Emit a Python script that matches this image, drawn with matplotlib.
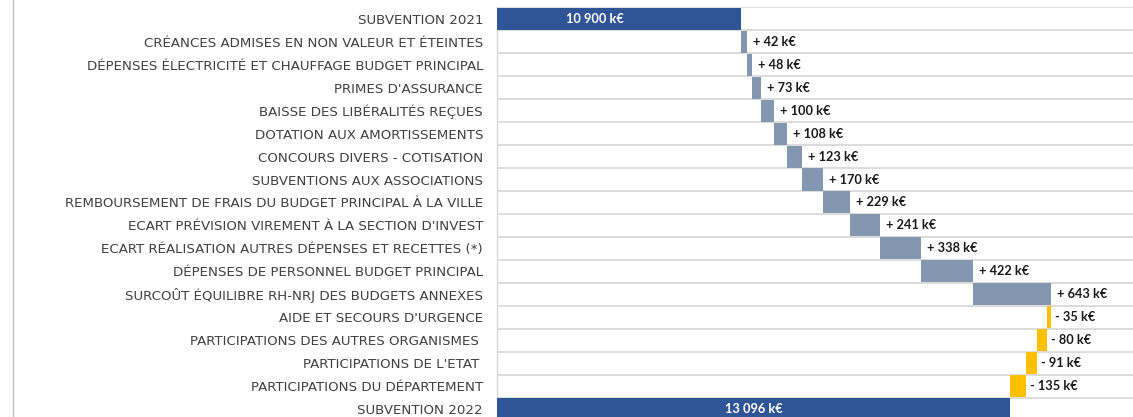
import matplotlib
matplotlib.use("Agg")
import matplotlib.pyplot as plt
import numpy as np
from matplotlib.lines import Line2D
from matplotlib.transforms import offset_copy

categories = [
    "SUBVENTION 2021",
    "CRÉANCES ADMISES EN NON VALEUR ET ÉTEINTES",
    "DÉPENSES ÉLECTRICITÉ ET CHAUFFAGE BUDGET PRINCIPAL",
    "PRIMES D'ASSURANCE",
    "BAISSE DES LIBÉRALITÉS REÇUES",
    "DOTATION AUX AMORTISSEMENTS",
    "CONCOURS DIVERS - COTISATION",
    "SUBVENTIONS AUX ASSOCIATIONS",
    "REMBOURSEMENT DE FRAIS DU BUDGET PRINCIPAL À LA VILLE",
    "ECART PRÉVISION VIREMENT À LA SECTION D'INVEST",
    "ECART RÉALISATION AUTRES DÉPENSES ET RECETTES (*)",
    "DÉPENSES DE PERSONNEL BUDGET PRINCIPAL",
    "SURCOÛT ÉQUILIBRE RH-NRJ DES BUDGETS ANNEXES",
    "AIDE ET SECOURS D'URGENCE",
    "PARTICIPATIONS DES AUTRES ORGANISMES ",
    "PARTICIPATIONS DE L'ETAT ",
    "PARTICIPATIONS DU DÉPARTEMENT",
    "SUBVENTION 2022",
]
start_total = 10900
deltas = [42, 48, 73, 100, 108, 123, 170, 229, 241, 338, 422, 643,
          -35, -80, -91, -135]
end_total = 13096

C_TOTAL = "#2F5597"
C_UP = "#8497B0"
C_DOWN = "#FFC000"
XMIN, XMAX = 8900, 14105

fig = plt.figure(figsize=(11.33, 4.17), dpi=100)
W, H = 1133, 417
row_h = 22.96
top_px = 7.3
n = len(categories)
ax_h = row_h * n
ax = fig.add_axes([497 / W, (H - top_px - ax_h) / H, (W - 497) / W, ax_h / H])

y = np.arange(n)
lefts, widths, colors = [], [], []
lefts.append(XMIN); widths.append(start_total - XMIN); colors.append(C_TOTAL)
cum = start_total
for d in deltas:
    if d >= 0:
        lefts.append(cum); widths.append(d); colors.append(C_UP)
    else:
        lefts.append(cum + d); widths.append(-d); colors.append(C_DOWN)
    cum += d
lefts.append(XMIN); widths.append(end_total - XMIN); colors.append(C_TOTAL)

ax.barh(y, widths, left=lefts, height=0.96, color=colors, zorder=3)

ax.set_xlim(XMIN, XMAX)
ax.set_ylim(n - 0.5, -0.5)
ax.set_yticks(y)
ax.set_yticklabels(categories, fontsize=9.6, color="#404040", family="DejaVu Sans")
ax.tick_params(axis="y", length=0, pad=10)
ax.set_xticks([])
ax.set_yticks(np.arange(n + 1) - 0.5, minor=True)
ax.tick_params(axis="y", which="minor", length=0)
ax.grid(axis="y", which="minor", color="#D9D9D9", linewidth=1.3, zorder=0)
for s in ["top", "right", "bottom"]:
    ax.spines[s].set_visible(False)
ax.spines["left"].set_color("#D9D9D9")
ax.spines["left"].set_linewidth(1.0)

lab_font = dict(family="Lato", fontweight="bold", fontsize=9.2)
# totals
ax.text(XMIN + (start_total - XMIN) * 0.4, 0, "10 900 k€", color="white",
        ha="center", va="center", zorder=4, **lab_font)
ax.text((XMIN + end_total) / 2, n - 1, "13 096 k€", color="white",
        ha="center", va="center", zorder=4, **lab_font)
cum = start_total
for i, d in enumerate(deltas, start=1):
    right = max(cum, cum + d)
    txt = f"+ {d} k€" if d >= 0 else f"- {-d} k€"
    tr = offset_copy(ax.transData, fig=fig, x=6 if d >= 0 else 4, y=0, units="dots")
    ax.text(right, i, txt, color="#1A1A1A", ha="left", va="center",
            transform=tr, zorder=4, **lab_font)
    cum += d

fig.add_artist(Line2D([12.5 / W, 12.5 / W], [0, 1], color="#BFBFBF", linewidth=1.0))

fig.savefig("out.png", dpi=100)
